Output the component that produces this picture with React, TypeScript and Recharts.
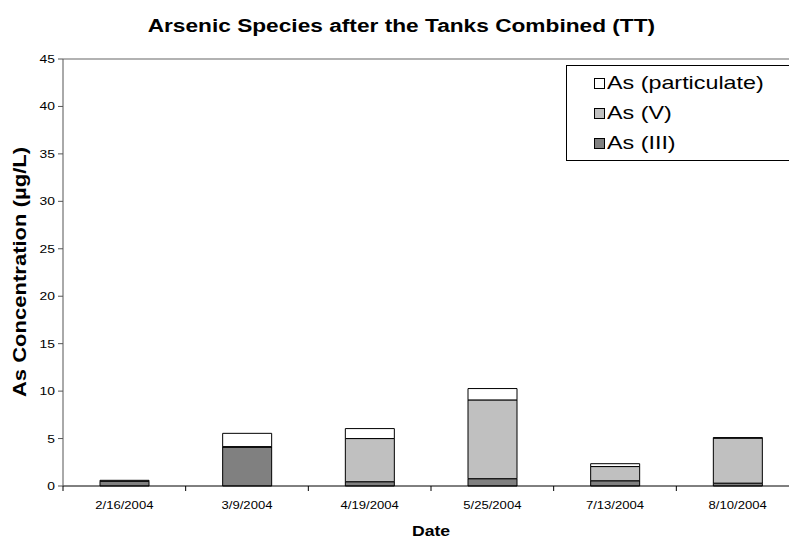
import React from 'react';
import { BarChart, Bar, XAxis, YAxis, ReferenceLine, Legend, Label } from 'recharts';

const dates = ['2/16/2004', '3/9/2004', '4/19/2004', '5/25/2004', '7/13/2004', '8/10/2004'];
const asIII = [0.5, 4.1, 0.45, 0.77, 0.55, 0.3];
const asV = [0.1, 0.05, 4.55, 8.3, 1.5, 4.75];
const asPart = [0.0, 1.4, 1.05, 1.2, 0.3, 0.05];
const yTicks = [0, 5, 10, 15, 20, 25, 30, 35, 40, 45];

const data = dates.map((d, i) => ({ date: d, iii: asIII[i], v: asV[i], part: asPart[i] }));

const FONT = '"Liberation Sans", Arial, sans-serif';
const S = 1.26;
const PLOT_LEFT = 63;
const PLOT_RIGHT = 799;
const PLOT_BOTTOM = 486;
const BAND = (PLOT_RIGHT - PLOT_LEFT) / dates.length;

const XTick = (props: any) => {
  const { x, payload, index } = props;
  const h = BAND / 2;
  return (
    <g>
      <line x1={x - h} y1={PLOT_BOTTOM} x2={x - h} y2={PLOT_BOTTOM + 5} stroke="#000" />
      {index === dates.length - 1 && (
        <line x1={x + h} y1={PLOT_BOTTOM} x2={x + h} y2={PLOT_BOTTOM + 5} stroke="#000" />
      )}
      <text
        transform={`translate(${x},${PLOT_BOTTOM + 23}) scale(${S},1)`}
        textAnchor="middle"
        fontSize={10.4}
        fontFamily={FONT}
        fill="#000"
      >
        {payload.value}
      </text>
    </g>
  );
};

const YTick = (props: any) => {
  const { x, y, payload } = props;
  return (
    <text
      transform={`translate(${x},${y}) scale(${S},1)`}
      textAnchor="end"
      dy={4}
      fontSize={11}
      fontFamily={FONT}
      fill="#000"
    >
      {payload.value}
    </text>
  );
};

const legendItems = [
  { label: 'As (particulate)', fill: '#FFFFFF' },
  { label: 'As (V)', fill: '#C0C0C0' },
  { label: 'As (III)', fill: '#808080' },
];

const LegendBox = () => (
  <div
    style={{
      position: 'relative',
      width: 240,
      height: 96,
      border: '1px solid #000',
      background: '#fff',
      boxSizing: 'border-box',
    }}
  >
    {legendItems.map((it, i) => (
      <div
        key={it.label}
        style={{ position: 'absolute', left: 27, top: 6 + i * 30, height: 22, display: 'flex', alignItems: 'center' }}
      >
        <div style={{ width: 9, height: 9, border: '1px solid #000', background: it.fill }} />
        <span
          style={{
            display: 'inline-block',
            marginLeft: 2,
            fontFamily: FONT,
            fontSize: 18.5,
            lineHeight: '22px',
            color: '#000',
            transform: `scaleX(${S})`,
            transformOrigin: 'left center',
            whiteSpace: 'nowrap',
          }}
        >
          {it.label}
        </span>
      </div>
    ))}
  </div>
);

export default function App() {
  return (
    <div style={{ position: 'absolute', left: 0, top: 0, width: 789, height: 542, overflow: 'hidden', background: '#fff' }}>
      <div
        style={{
          position: 'absolute',
          left: 0,
          top: 14,
          width: 802,
          textAlign: 'center',
          fontFamily: FONT,
          fontWeight: 'bold',
          fontSize: 18,
          lineHeight: '24px',
          zIndex: 2,
        }}
      >
        <span style={{ display: 'inline-block', transform: `scaleX(${S})`, transformOrigin: 'center' }}>
          Arsenic Species after the Tanks Combined (TT)
        </span>
      </div>
      <BarChart
        width={810}
        height={542}
        data={data}
        margin={{ top: 59, right: 11, bottom: 6, left: 8 }}
        barSize={49}
      >
        <ReferenceLine y={45} stroke="#999" strokeWidth={1.5} ifOverflow="extendDomain" />
        <XAxis
          dataKey="date"
          height={50}
          tickLine={false}
          axisLine={{ stroke: '#000' }}
          tick={<XTick />}
          interval={0}
        >
          <Label
            content={() => (
              <text
                transform={`translate(431,536) scale(${S},1)`}
                textAnchor="middle"
                fontSize={14}
                fontWeight="bold"
                fontFamily={FONT}
                fill="#000"
              >
                Date
              </text>
            )}
          />
        </XAxis>
        <YAxis
          width={55}
          domain={[0, 45]}
          ticks={yTicks}
          interval={0}
          tickSize={5}
          tickMargin={3}
          axisLine={{ stroke: '#555' }}
          tickLine={{ stroke: '#555' }}
          tick={<YTick />}
        >
          <Label
            content={() => (
              <text
                transform={`translate(20,272) rotate(-90) scale(${S},1)`}
                textAnchor="middle"
                dy="0.36em"
                fontSize={17.5}
                fontWeight="bold"
                fontFamily={FONT}
                fill="#000"
              >
                As Concentration (µg/L)
              </text>
            )}
          />
        </YAxis>
        <Legend
          layout="vertical"
          align="center"
          verticalAlign="middle"
          wrapperStyle={{ left: 566, top: 65, width: 240 }}
          content={() => <LegendBox />}
        />
        <Bar dataKey="iii" stackId="a" fill="#808080" stroke="#000" strokeWidth={1} isAnimationActive={false} />
        <Bar dataKey="v" stackId="a" fill="#C0C0C0" stroke="#000" strokeWidth={1} isAnimationActive={false} />
        <Bar dataKey="part" stackId="a" fill="#FFFFFF" stroke="#000" strokeWidth={1} isAnimationActive={false} />
      </BarChart>
    </div>
  );
}
